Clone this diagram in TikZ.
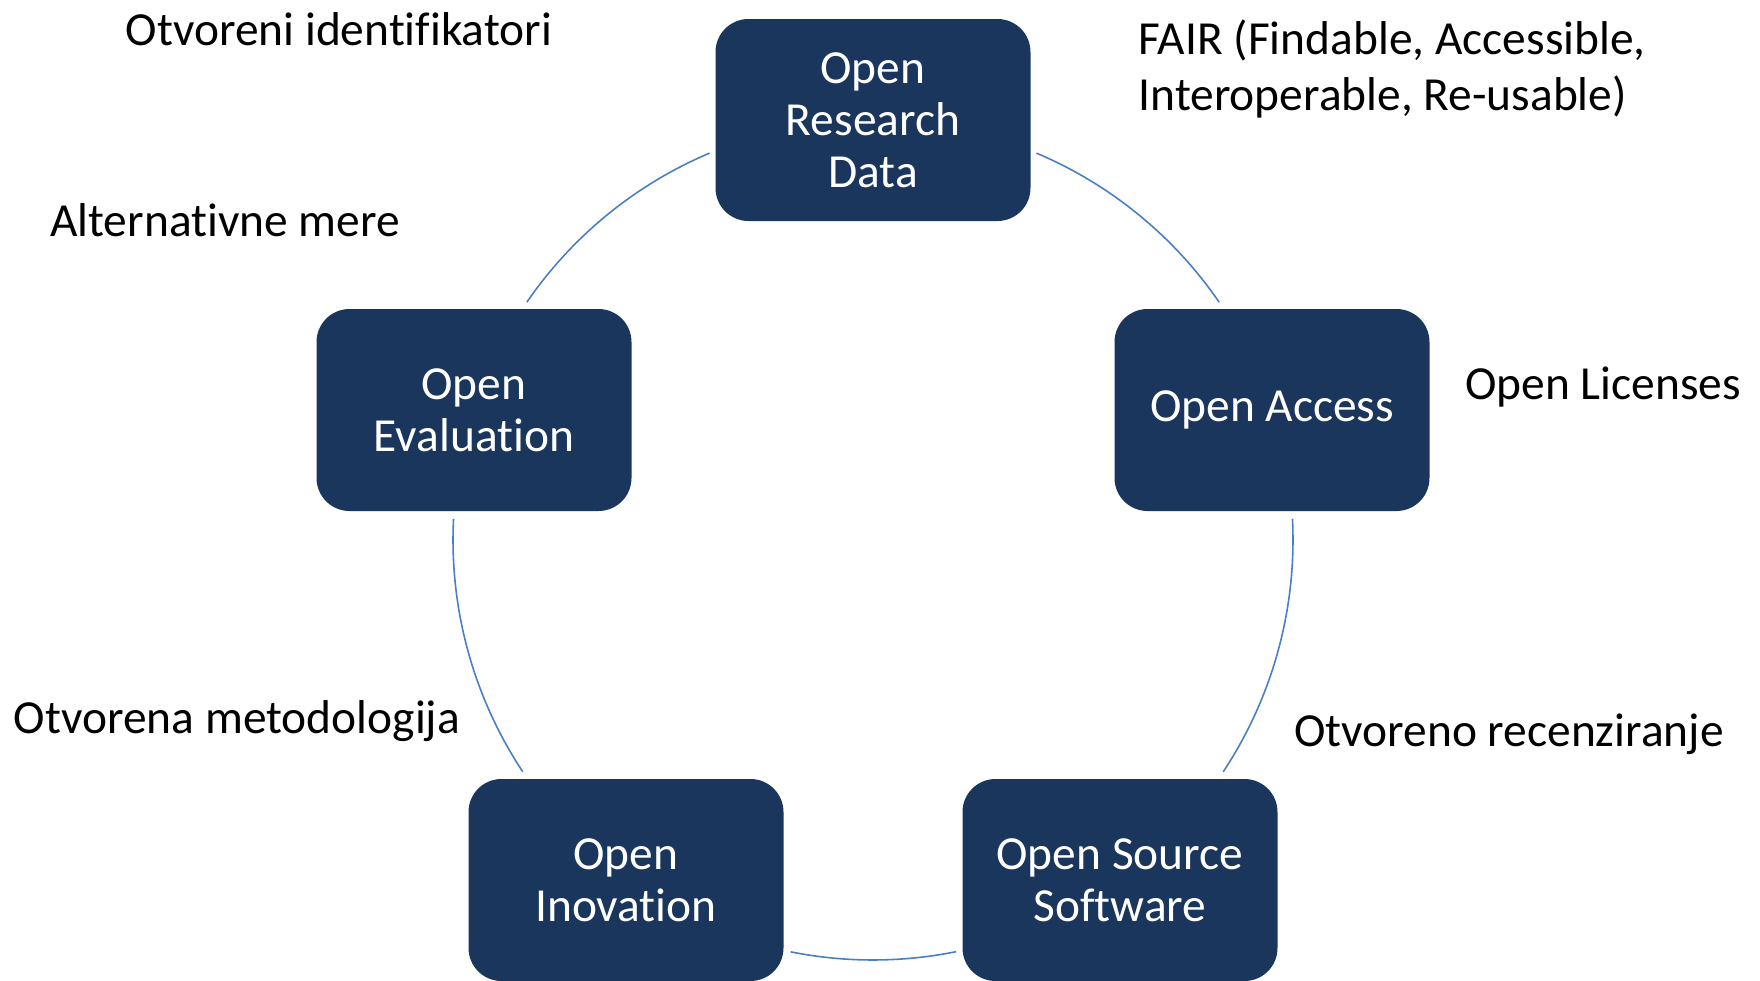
\documentclass[tikz,border=0pt]{standalone}
\usepackage{fontspec}
\setmainfont{Carlito}[Ligatures=NoCommon]
\definecolor{navy}{HTML}{1A365D}
\definecolor{ringblue}{HTML}{4A7EC4}
\begin{document}
\begin{tikzpicture}[
    box/.style={draw=none, fill=navy, rounded corners=0.33cm, minimum width=3.15cm,
      minimum height=2.02cm, text=white, align=center,
      font=\fontsize{13.5}{14.8}\selectfont},
    note/.style={inner sep=0pt, font=\fontsize{13.5}{15.9}\selectfont},
    ring/.style={draw=ringblue, line width=0.45pt}
  ]
  %\draw [help lines] (0,0) grid (17.6,9.8);
  \useasboundingbox (0,0) rectangle (17.6,9.8);
  \coordinate (c) at (8.73,4.40);

  \foreach \a/\b in {34.5/67.1, 112.9/145.5, 177.1/213.5, 258.7/281.4, 326.5/362.9}
    \draw[ring] ([shift={(\a:4.2)}]c) arc[start angle=\a, end angle=\b, radius=4.2];

  \node[box] (Open Research Data) at (8.73,8.60) {Open\\Research\\Data};
  \node[box] (Open Access) at (12.72,5.70) {Open Access};
  \node[box] (Open Source Software) at (11.20,1.00) {Open Source\\Software};
  \node[box] (Open Inovation) at (6.26,1.00) {Open\\Inovation};
  \node[box] (Open Evaluation) at (4.74,5.70) {Open\\Evaluation};

  \node[note] (Otvoreni identifikatori) at (3.39,9.51) {Otvoreni identifikatori};
  \node[note, anchor=west, align=left] (FAIR) at (11.38,9.11)
    {FAIR (Findable, Accessible,\\Interoperable, Re-usable)};
  \node[note] (Alternativne mere) at (2.25,7.60) {Alternativne mere};
  \node[note] (Open Licenses) at (16.03,5.93) {Open Licenses};
  \node[note] (Otvorena metodologija) at (2.37,2.59) {Otvorena metodologija};
  \node[note] (Otvoreno recenziranje) at (15.09,2.46) {Otvoreno recenziranje};
\end{tikzpicture}
\end{document}
